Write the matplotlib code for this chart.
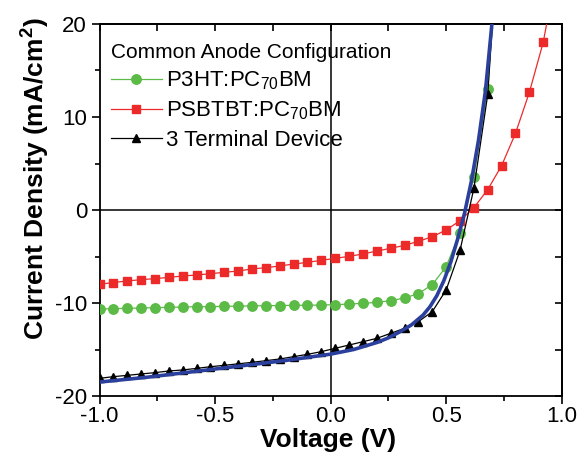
import numpy as np
import matplotlib
matplotlib.use("Agg")
import matplotlib.pyplot as plt
from matplotlib.ticker import MultipleLocator

plt.rcParams['font.family'] = ['Liberation Sans', 'DejaVu Sans']
plt.rcParams['mathtext.fontset'] = 'custom'
plt.rcParams['mathtext.rm'] = 'Liberation Sans'
plt.rcParams['mathtext.it'] = 'Liberation Sans:italic'
plt.rcParams['mathtext.bf'] = 'Liberation Sans:bold'
plt.rcParams['mathtext.default'] = 'regular'

# ---------------- data ----------------
v_p3ht = [-1.00, -0.94, -0.88, -0.82, -0.76, -0.70, -0.64, -0.58, -0.52, -0.46,
          -0.40, -0.34, -0.28, -0.22, -0.16, -0.10, -0.04, 0.02, 0.08, 0.14,
          0.20, 0.26, 0.32, 0.38, 0.44, 0.50, 0.56, 0.62, 0.68, 0.74]
j_p3ht = [-10.65, -10.61, -10.57, -10.54, -10.50, -10.47, -10.43, -10.40, -10.39, -10.36,
          -10.33, -10.31, -10.29, -10.27, -10.25, -10.24, -10.22, -10.18, -10.11, -10.04,
          -9.93, -9.75, -9.46, -8.99, -8.03, -6.09, -2.43, 3.58, 12.97, 34.0]

v_psbtbt = [-1.00, -0.94, -0.88, -0.82, -0.76, -0.70, -0.64, -0.58, -0.52, -0.46,
            -0.40, -0.34, -0.28, -0.22, -0.16, -0.10, -0.04, 0.02, 0.08, 0.14,
            0.20, 0.26, 0.32, 0.38, 0.44, 0.50, 0.56, 0.62, 0.68, 0.74,
            0.80, 0.86, 0.92, 0.98]
j_psbtbt = [-7.99, -7.80, -7.63, -7.49, -7.38, -7.24, -7.10, -6.99, -6.85, -6.70,
            -6.56, -6.34, -6.20, -6.02, -5.81, -5.63, -5.41, -5.20, -4.98, -4.73,
            -4.41, -4.12, -3.80, -3.37, -2.87, -2.15, -1.15, 0.25, 2.20, 4.77,
            8.24, 12.65, 18.03, 26.0]

v_3t = [-1.00, -0.94, -0.88, -0.82, -0.76, -0.70, -0.64, -0.58, -0.52, -0.46,
        -0.40, -0.34, -0.28, -0.22, -0.16, -0.10, -0.04, 0.02, 0.08, 0.14,
        0.20, 0.26, 0.32, 0.38, 0.44, 0.50, 0.56, 0.62, 0.68, 0.74]
j_3t = [-18.10, -17.92, -17.78, -17.63, -17.49, -17.31, -17.20, -17.03, -16.85, -16.70,
        -16.54, -16.38, -16.20, -16.02, -15.77, -15.52, -15.23, -14.87, -14.52, -14.16,
        -13.80, -13.26, -12.72, -12.00, -10.93, -8.60, -4.35, 2.33, 12.44, 35.0]

v_fit = [-1.00, -0.80, -0.60, -0.40, -0.20, 0.00, 0.10, 0.20, 0.25, 0.30,
         0.35, 0.40, 0.43, 0.46, 0.49, 0.52, 0.55, 0.58, 0.61, 0.64, 0.67, 0.70]
j_fit = [-18.50, -18.00, -17.40, -16.80, -16.20, -15.50, -15.00, -14.25, -13.75, -13.10,
         -12.35, -11.30, -10.40, -9.20, -7.60, -5.60, -3.10, -0.30, 3.20, 7.50, 12.80, 20.50]

series_labels = ['P3HT:PC$_{70}$BM', 'PSBTBT:PC$_{70}$BM', '3 Terminal Device']
legend_title = 'Common Anode Configuration'

# ---------------- figure ----------------
W, H = 581, 473
fig = plt.figure(figsize=(W / 100, H / 100), dpi=100)
ax = fig.add_axes([99.5 / W, 1 - 396 / H, (561.7 - 99.5) / W, (396 - 24) / H])

ax.axhline(0, color='black', lw=1.1, zorder=1)
ax.axvline(0, color='black', lw=1.1, zorder=1)

green = '#5cba47'
red = '#ec2a2a'
l1, = ax.plot(v_p3ht, j_p3ht, '-o', color=green, lw=0.9, ms=6.8, mec=green, mfc=green,
              label=series_labels[0], zorder=3)
l2, = ax.plot(v_psbtbt, j_psbtbt, '-s', color=red, lw=0.9, ms=5.8, mec=red, mfc=red,
              label=series_labels[1], zorder=3)
l3, = ax.plot(v_3t, j_3t, '-^', color='black', lw=0.9, ms=6.3,
              label=series_labels[2], zorder=4)
ax.plot(v_fit, j_fit, '-', color='#2b3f9c', lw=2.6, zorder=5, solid_capstyle='round')

ax.set_xlim(-1.0, 1.0)
ax.set_ylim(-20, 20)
ax.xaxis.set_minor_locator(MultipleLocator(0.25))
ax.yaxis.set_minor_locator(MultipleLocator(5))
ax.set_xticks([-1.0, -0.5, 0.0, 0.5, 1.0])
ax.set_xticklabels(['-1.0', '-0.5', '0.0', '0.5', '1.0'])
ax.set_yticks([-20, -10, 0, 10, 20])
ax.set_yticklabels(['-20', '-10', '0', '10', '20'])

for s in ax.spines.values():
    s.set_linewidth(1.3)
ax.tick_params(which='major', direction='out', length=6, width=1.2, labelsize=16, pad=1.5)
ax.tick_params(which='minor', direction='out', length=3.5, width=1.2)
ax.tick_params(axis='y', which='major', pad=3)

# mirrored inward ticks on top and right
top = ax.secondary_xaxis('top')
top.xaxis.set_major_locator(MultipleLocator(0.25))
top.tick_params(direction='in', length=5, width=1.2, labeltop=False)
top.spines['top'].set_linewidth(1.3)
right = ax.secondary_yaxis('right')
right.yaxis.set_major_locator(MultipleLocator(5))
right.tick_params(direction='in', length=5, width=1.2, labelright=False)
right.spines['right'].set_linewidth(1.3)

leg = ax.legend(handles=[l1, l2, l3], title=legend_title, loc='upper left',
                frameon=False, fontsize=16, title_fontsize=15, alignment='left',
                handlelength=2.3, handletextpad=0.2, labelspacing=0.33,
                borderaxespad=0.0, bbox_to_anchor=(0.015, 0.960), borderpad=0.2)

fig.text(328 / W, 1 - 447 / H, 'Voltage (V)', ha='center', va='baseline',
         fontsize=19, fontweight='bold')
fig.text(36 / W, 1 - 179 / H, r'Current Density (mA/cm$\mathbf{^2}$)', ha='center', va='center',
         rotation=90, fontsize=19, fontweight='bold')

fig.savefig('out.png', dpi=100)
